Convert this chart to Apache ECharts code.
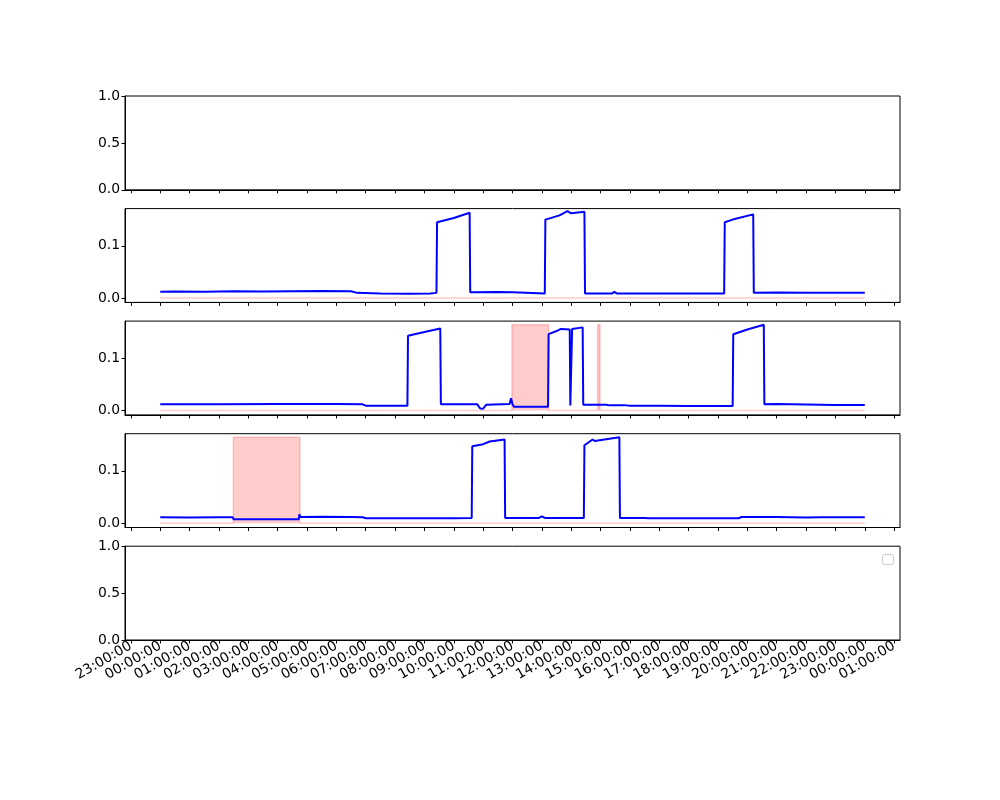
<!DOCTYPE html>
<html><head><meta charset="utf-8">
<script src="https://cdn.jsdelivr.net/npm/echarts@6/dist/echarts.min.js"></script>
<style>html,body{margin:0;padding:0;background:#fff}#c{width:1000px;height:800px}</style>
</head><body><div id="c"></div>
<script>
// time in hours from 00:00 of the day
const xTickHours = [-1,0,1,2,3,4,5,6,7,8,9,10,11,12,13,14,15,16,17,18,19,20,21,22,23,24,25];
const yTicksSmall = [0, 0.1];
const yTicksEmpty = [0, 0.5, 1];

const series2 = [[0,0.012],[0.5,0.0125],[1.5,0.012],[2.5,0.013],[3.5,0.0125],[4.5,0.013],[5.5,0.0135],[6.5,0.013],[6.7,0.010],[7.5,0.009],[8.5,0.0085],[9.2,0.009],[9.41,0.01],[9.43,0.145],[10,0.153],[10.54,0.163],[10.56,0.011],[11.5,0.0115],[12.0,0.011],[12.05,0.009],[13.1,0.009],[13.12,0.150],[13.6,0.158],[13.87,0.166],[14.0,0.162],[14.45,0.165],[14.47,0.009],[15.4,0.009],[15.47,0.012],[15.55,0.009],[16.0,0.009],[16.04,0.012],[16.1,0.009],[17.0,0.009],[17.06,0.011],[17.12,0.009],[18,0.009],[19.21,0.009],[19.23,0.145],[19.5,0.150],[20.2,0.160],[20.22,0.010],[21,0.0105],[22,0.01],[23,0.01],[24,0.01]];

const series3 = [[0,0.012],[2,0.012],[4,0.0125],[6,0.0125],[6.9,0.012],[7.0,0.0095],[8.42,0.0095],[8.44,0.143],[9.0,0.150],[9.54,0.157],[9.56,0.012],[10.8,0.012],[10.9,0.004],[11.0,0.0035],[11.1,0.011],[11.9,0.0125],[11.95,0.0235],[12.0,0.012],[12.05,0.0075],[13.21,0.0075],[13.23,0.146],[13.5,0.152],[13.65,0.156],[13.95,0.155],[13.97,0.010],[14.01,0.010],[14.03,0.156],[14.39,0.159],[14.41,0.011],[15.2,0.011],[15.23,0.0125],[15.3,0.010],[15.87,0.010],[15.9,0.0115],[16,0.0095],[16.85,0.0095],[16.88,0.011],[17,0.0095],[18,0.009],[19,0.009],[19.5,0.009],[19.52,0.146],[20,0.155],[20.56,0.164],[20.58,0.012],[21,0.0125],[22,0.0115],[23,0.0105],[24,0.0105]];

const series4 = [[0,0.0113],[1,0.011],[2,0.0115],[2.47,0.0115],[2.5,0.0075],[4.72,0.0075],[4.74,0.017],[4.78,0.012],[5.5,0.0125],[6.5,0.012],[6.9,0.0115],[7.0,0.0095],[8,0.0095],[9,0.0095],[10,0.0095],[10.61,0.01],[10.63,0.147],[11.0,0.151],[11.22,0.156],[11.73,0.160],[11.75,0.010],[12.9,0.010],[13.0,0.013],[13.1,0.010],[14.43,0.010],[14.45,0.149],[14.73,0.160],[14.8,0.157],[15.64,0.164],[15.66,0.010],[16.5,0.010],[16.56,0.012],[16.65,0.0095],[17.5,0.0095],[18.5,0.0095],[19.7,0.0095],[19.8,0.0118],[21,0.0118],[22,0.011],[22.5,0.0115],[24,0.0115]];

// anomaly intervals [start, end] in hours
const anomalies2 = [];
const anomalies3 = [[11.98,13.23],[14.9,14.98]];
const anomalies4 = [[2.49,4.76]];

const dayStart = 0, dayEnd = 24;

function anomalyBand(intervals, values) {
  const top = Math.max(...values.map(p => p[1]));
  const out = [[dayStart, 0]];
  intervals.forEach(([a, b]) => {
    out.push([a, 0], [a, top], [b, top], [b, 0]);
  });
  out.push([dayEnd, 0]);
  return out;
}

const fmtHour = h => String(((h % 24) + 24) % 24).padStart(2, '0') + ':00:00';

const tops = [96, 208.6, 321.1, 433.7, 546.2];
const H = 93.8;
const FS = 13.9;
const font = 'DejaVu Sans';

const grids = tops.map(t => ({left: 125, right: 100, top: t, height: H, show: true, borderColor: '#000', borderWidth: 1, backgroundColor: 'transparent'}));

const xAxes = tops.map((t, i) => ({
  type: 'value', gridIndex: i, min: -1.2, max: 25.2,
  axisLine: {show: true, onZero: false, lineStyle: {color: '#000', width: 1}},
  axisTick: {show: true, length: 3.5, inside: false, customValues: xTickHours, lineStyle: {color: '#000'}},
  axisLabel: {show: i === 4, customValues: xTickHours, formatter: v => fmtHour(Math.round(v)), rotate: 30, margin: 5,
              color: '#000', fontFamily: font, fontSize: FS},
  splitLine: {show: false}
}));

const yAxes = tops.map((t, i) => {
  const empty = (i === 0 || i === 4);
  const ticks = empty ? yTicksEmpty : yTicksSmall;
  return {
    type: 'value', gridIndex: i,
    min: empty ? 0 : -0.0082, max: empty ? 1 : 0.171,
    axisLine: {show: true, onZero: false, lineStyle: {color: '#000', width: 1}},
    axisTick: {show: true, length: 3.5, inside: false, customValues: ticks, lineStyle: {color: '#000'}},
    axisLabel: {show: true, customValues: ticks, formatter: v => v.toFixed(1), margin: 5,
                color: '#000', fontFamily: font, fontSize: FS},
    splitLine: {show: false}
  };
});

const dataSets = [[series2, anomalies2, 1], [series3, anomalies3, 2], [series4, anomalies4, 3]];
const series = [];
dataSets.forEach(([vals, anoms, gi]) => {
  series.push({
    type: 'line', xAxisIndex: gi, yAxisIndex: gi, data: anomalyBand(anoms, vals),
    showSymbol: false, silent: true, z: 1,
    lineStyle: {color: 'rgba(255,0,0,0.2)', width: 1.5},
    areaStyle: {color: 'rgba(255,0,0,0.2)', opacity: 1, origin: 0}
  });
  series.push({
    type: 'line', xAxisIndex: gi, yAxisIndex: gi, data: vals,
    showSymbol: false, silent: true, z: 2,
    lineStyle: {color: '#0000ff', width: 2}
  });
});

const chart = echarts.init(document.getElementById('c'), null, {renderer: 'canvas'});
chart.setOption({
  animation: false,
  backgroundColor: '#fff',
  grid: grids, xAxis: xAxes, yAxis: yAxes, series: series,
  graphic: [{type: 'rect', left: 882, top: 554, shape: {width: 11, height: 10, r: 2.5},
             style: {fill: '#fff', stroke: '#cccccc', lineWidth: 1}}]
});
</script></body></html>
